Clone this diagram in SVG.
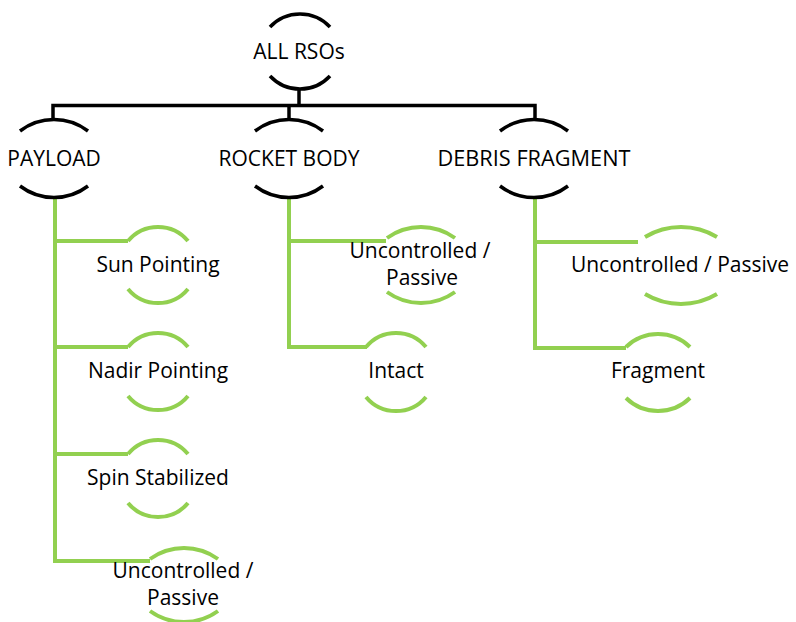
<svg xmlns="http://www.w3.org/2000/svg" width="796" height="622" viewBox="0 0 796 622">
<style>
.bk{fill:none;stroke:#000;stroke-width:3.5}
.gr{fill:none;stroke:#92D050;stroke-width:4}
text{font-family:"Open Sans","Liberation Sans",sans-serif;font-size:21px;fill:#000;text-anchor:middle}
</style>
<rect width="796" height="622" fill="#fff"/>
<g id="connectors">
<path class="bk" d="M53,120 V105.5 H535 V119"/>
<path class="bk" d="M299,89 V105.5"/>
<path class="bk" d="M289,105.5 V120"/>
<path class="gr" d="M55,197.5 V561 H150"/>
<path class="gr" d="M55,241 H128"/>
<path class="gr" d="M55,347 H128"/>
<path class="gr" d="M55,454 H128"/>
<path class="gr" d="M289,197.5 V347 H367"/>
<path class="gr" d="M289,241 H386"/>
<path class="gr" d="M535,197.5 V348 H626"/>
<path class="gr" d="M535,242 H638"/>
</g>
<g id="root">
<path class="bk" d="M270,27 A41 41 0 0 1 330,27"/>
<path class="bk" d="M270,76 A41 41 0 0 0 330,76"/>
<text x="299" y="59">ALL RSOs</text>
</g>
<g id="payload">
<path class="bk" d="M20,131 A56 56 0 0 1 88,131"/>
<path class="bk" d="M20,186 A56 56 0 0 0 88,186"/>
<text x="54" y="166">PAYLOAD</text>
</g>
<g id="rocket">
<path class="bk" d="M255,131 A56 56 0 0 1 323,131"/>
<path class="bk" d="M255,186 A56 56 0 0 0 323,186"/>
<text x="289" y="166">ROCKET BODY</text>
</g>
<g id="debris">
<path class="bk" d="M500,131 A56 56 0 0 1 568,131"/>
<path class="bk" d="M500,186 A56 56 0 0 0 568,186"/>
<text x="534" y="166" textLength="193" lengthAdjust="spacingAndGlyphs">DEBRIS FRAGMENT</text>
</g>
<g id="sun">
<path class="gr" d="M128,241 A39 39 0 0 1 188,241"/>
<path class="gr" d="M128,289 A39 39 0 0 0 188,289"/>
<text x="158" y="272">Sun Pointing</text>
</g>
<g id="nadir">
<path class="gr" d="M128,347 A39 39 0 0 1 188,347"/>
<path class="gr" d="M128,396 A39 39 0 0 0 188,396"/>
<text x="158" y="378">Nadir Pointing</text>
</g>
<g id="spin">
<path class="gr" d="M128,454 A39 39 0 0 1 188,454"/>
<path class="gr" d="M128,503 A39 39 0 0 0 188,503"/>
<text x="158" y="485">Spin Stabilized</text>
</g>
<g id="payload-unc">
<path class="gr" d="M150,559 A58 58 0 0 1 218,559"/>
<path class="gr" d="M150,611 A58 58 0 0 0 218,611"/>
<text x="183" y="578">Uncontrolled /</text>
<text x="183" y="605">Passive</text>
</g>
<g id="rocket-unc">
<path class="gr" d="M387,238 A58 58 0 0 1 455,238"/>
<path class="gr" d="M387,292 A58 58 0 0 0 455,292"/>
<text x="420" y="258">Uncontrolled /</text>
<text x="422" y="285">Passive</text>
</g>
<g id="intact">
<path class="gr" d="M366,347 A39 39 0 0 1 426,347"/>
<path class="gr" d="M366,397 A39 39 0 0 0 426,397"/>
<text x="396" y="378">Intact</text>
</g>
<g id="debris-unc">
<path class="gr" d="M645,237 A70 70 0 0 1 717,237"/>
<path class="gr" d="M645,294 A70 70 0 0 0 717,294"/>
<text x="680" y="272">Uncontrolled / Passive</text>
</g>
<g id="fragment">
<path class="gr" d="M626,347 A46 46 0 0 1 690,347"/>
<path class="gr" d="M626,398 A46 46 0 0 0 690,398"/>
<text x="658" y="378">Fragment</text>
</g>
</svg>
